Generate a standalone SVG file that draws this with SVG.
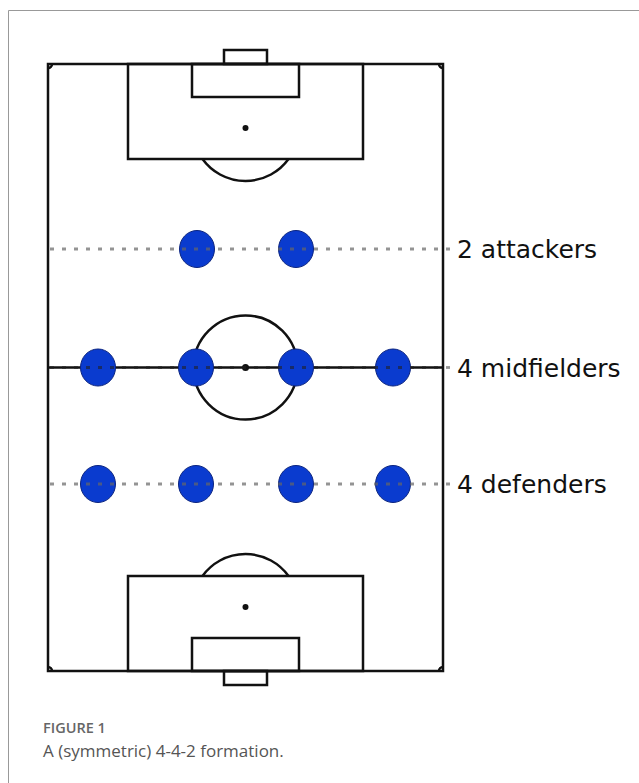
<svg xmlns="http://www.w3.org/2000/svg" width="639" height="783" viewBox="0 0 639 783">
<style>
.line{fill:none;stroke:#111;stroke-width:2.5}
.spot{fill:#111}
.player{fill:#0a3bcf;stroke:#0b2480;stroke-width:1}
.dots{stroke:#666;stroke-opacity:0.7;stroke-width:2.8;stroke-dasharray:4 8;fill:none}
.dots-dark{stroke:#222;stroke-opacity:0.6}
.label{font-family:"DejaVu Sans",Verdana,sans-serif;font-size:25px;fill:#111}
.cap1{font-family:"Open Sans","Noto Sans",sans-serif;font-size:14.5px;font-weight:600;fill:#666}
.cap2{font-family:"Open Sans","Noto Sans",sans-serif;font-size:17px;fill:#555}
</style>
<rect width="639" height="783" fill="#fff"/>
<path d="M8.5 783 V10.5 H639" fill="none" stroke="#999" stroke-width="1"/>
<g id="pitch">
<rect class="line" x="48" y="64" width="395" height="607"/>
<rect class="line" x="128" y="64" width="235" height="95"/>
<rect class="line" x="192" y="64" width="107" height="33"/>
<rect class="line" x="224" y="50" width="43" height="14"/>
<circle class="spot" cx="245.5" cy="128" r="3"/>
<path class="line" d="M202.5 159 A53 53 0 0 0 288.5 159"/>
<rect class="line" x="128" y="576" width="235" height="95"/>
<rect class="line" x="192" y="638" width="107" height="33"/>
<rect class="line" x="224" y="671" width="43" height="14"/>
<circle class="spot" cx="245.5" cy="607" r="3"/>
<path class="line" d="M202.5 576 A53 53 0 0 1 288.5 576"/>
<line class="line" x1="48" y1="367.5" x2="443" y2="367.5"/>
<circle class="line" cx="245.5" cy="367.5" r="52"/>
<circle class="spot" cx="245.5" cy="367.5" r="3.5"/>
<path class="line" d="M48 68 A4 4 0 0 0 52 64 M439 64 A4 4 0 0 0 443 68 M443 667 A4 4 0 0 0 439 671 M52 671 A4 4 0 0 0 48 667" stroke-width="1.5"/>
</g>
<g id="attackers">
<ellipse class="player" cx="197" cy="249" rx="17.5" ry="18.5"/>
<ellipse class="player" cx="296" cy="249" rx="17.5" ry="18.5"/>
</g>
<g id="midfielders">
<ellipse class="player" cx="98" cy="367.5" rx="17.5" ry="18.5"/>
<ellipse class="player" cx="196" cy="367.5" rx="17.5" ry="18.5"/>
<ellipse class="player" cx="296" cy="367.5" rx="17.5" ry="18.5"/>
<ellipse class="player" cx="393" cy="367.5" rx="17.5" ry="18.5"/>
</g>
<g id="defenders">
<ellipse class="player" cx="98" cy="484" rx="17.5" ry="18.5"/>
<ellipse class="player" cx="196" cy="484" rx="17.5" ry="18.5"/>
<ellipse class="player" cx="296" cy="484" rx="17.5" ry="18.5"/>
<ellipse class="player" cx="393" cy="484" rx="17.5" ry="18.5"/>
</g>
<g id="connectors">
<line class="dots" x1="50" y1="249" x2="452" y2="249"/>
<line class="dots dots-dark" x1="50" y1="367.5" x2="444" y2="367.5"/>
<line class="dots" x1="446" y1="367.5" x2="450" y2="367.5"/>
<line class="dots" x1="50" y1="484" x2="452" y2="484"/>
</g>
<g id="labels">
<text class="label" x="457" y="258">2 attackers</text>
<text class="label" x="457" y="377">4 midfielders</text>
<text class="label" x="457" y="493">4 defenders</text>
</g>
<g id="caption">
<text class="cap1" x="43" y="733">FIGURE 1</text>
<text class="cap2" x="43" y="757">A (symmetric) 4-4-2 formation.</text>
</g>
</svg>
